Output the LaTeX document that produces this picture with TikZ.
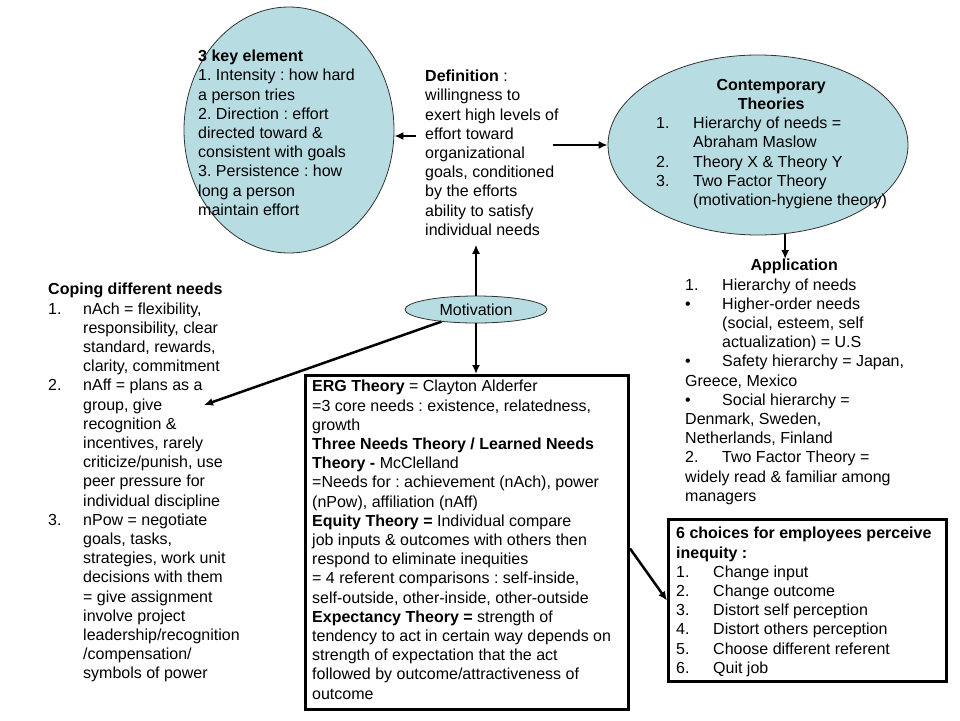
\documentclass[tikz,border=0pt]{standalone}
\usepackage{fontspec}
\setmainfont{Liberation Sans}
\usetikzlibrary{positioning, calc, shapes.geometric, arrows.meta}
\definecolor{bubble}{RGB}{183,221,227}
\newcommand{\lnum}[2][37pt]{\makebox[#1][l]{#2}}
\newcommand{\lind}[1][37pt]{\hspace*{#1}}
\frenchspacing

\begin{document}
\begin{tikzpicture}[x=1pt, y=-1pt,
	txt/.style={anchor=north west, inner sep=0pt, align=left, font=\fontsize{16}{19.2}\selectfont},
	blob/.style={draw=black!80, line width=0.8pt, fill=bubble, ellipse, inner sep=0pt},
	frame/.style={draw, line width=3pt, anchor=north west},
	arr/.style={-{Latex[length=9pt,width=8pt]}, line width=2.5pt}]
			\fill[white] (0,0) rectangle (960,720);
			\useasboundingbox (0,0) rectangle (960,720);

			% bubbles and boxes
			\node (key) [blob, minimum width=210, minimum height=246] at (289,130) {};
			\node (cont) [blob, minimum width=300, minimum height=180] at (758,145) {};
			\node (mot) [blob, minimum width=142, minimum height=27, font=\fontsize{16}{19.2}\selectfont] at (476,309.5) {Motivation};
			\node (erg) [frame, minimum width=323, minimum height=334] at (304,374) {};
			\node (inq) [frame, minimum width=278, minimum height=162] at (667,518) {};

			% texts
			\node (keytxt) [txt] at (198,50) {\textbf{3 key element}\\1. Intensity : how hard\\a person tries\\2. Direction : effort\\directed toward \&\\consistent with goals\\3. Persistence : how\\long a person\\maintain effort};
			\node (def) [txt] at (425,70) {\textbf{Definition} :\\willingness to\\exert high levels of\\effort toward\\organizational\\goals, conditioned\\by the efforts\\ability to satisfy\\individual needs};
			\node (conttxt) [txt] at (656,79) {\makebox[230pt][c]{\bfseries Contemporary}\\\makebox[230pt][c]{\bfseries Theories}\\\lnum{1.}Hierarchy of needs =\\\lind Abraham Maslow\\\lnum{2.}Theory X \& Theory Y\\\lnum{3.}Two Factor Theory\\\lind (motivation-hygiene theory)};
			\node (app) [txt] at (685,259) {\makebox[218pt][c]{\bfseries Application}\\\lnum{1.}Hierarchy of needs\\\lnum{\textbullet}Higher-order needs\\\lind (social, esteem, self\\\lind actualization) = U.S\\\lnum{\textbullet}Safety hierarchy = Japan,\\Greece, Mexico\\\lnum{\textbullet}Social hierarchy =\\Denmark, Sweden,\\Netherlands, Finland\\\lnum{2.}Two Factor Theory =\\widely read \& familiar among\\managers};
			\node (cope) [txt] at (48,283) {\textbf{Coping different needs}\\\lnum[35pt]{1.}nAch = flexibility,\\\lind[35pt]responsibility, clear\\\lind[35pt]standard, rewards,\\\lind[35pt]clarity, commitment\\\lnum[35pt]{2.}nAff = plans as a\\\lind[35pt]group, give\\\lind[35pt]recognition \&\\\lind[35pt]incentives, rarely\\\lind[35pt]criticize/punish, use\\\lind[35pt]peer pressure for\\\lind[35pt]individual discipline\\\lnum[35pt]{3.}nPow = negotiate\\\lind[35pt]goals, tasks,\\\lind[35pt]strategies, work unit\\\lind[35pt]decisions with them\\\lind[35pt]= give assignment\\\lind[35pt]involve project\\\lind[35pt]leadership/recognition\\\lind[35pt]/compensation/\\\lind[35pt]symbols of power};
			\node (ergtxt) [txt] at (312,380) {\textbf{ERG Theory} = Clayton Alderfer\\=3 core needs : existence, relatedness,\\growth\\\textbf{Three Needs Theory / Learned Needs}\\\textbf{Theory -} McClelland\\=Needs for : achievement (nAch), power\\(nPow), affiliation (nAff)\\\textbf{Equity Theory =} Individual compare\\job inputs \& outcomes with others then\\respond to eliminate inequities\\= 4 referent comparisons : self-inside,\\self-outside, other-inside, other-outside\\\textbf{Expectancy Theory =} strength of\\tendency to act in certain way depends on\\strength of expectation that the act\\followed by outcome/attractiveness of\\outcome};
			\node (inqtxt) [txt] at (676,527) {\textbf{6 choices for employees perceive}\\\textbf{inequity :}\\\lnum{1.}Change input\\\lnum{2.}Change outcome\\\lnum{3.}Distort self perception\\\lnum{4.}Distort others perception\\\lnum{5.}Choose different referent\\\lnum{6.}Quit job};

			% connectors
			\coordinate (copetip) at (204,405);
			\draw [arr] ($(def.west |- key.east)+(-9,6)$) -- ($(key.east)+(0,6)$);
			\draw [arr] ($(cont.west)+(-55,0)$) -- (cont.west);
			\draw [arr] (cont.-73) -- (cont.-73 |- app.north);
			\draw [arr] (mot.north) -- ([yshift=-9pt]mot.north |- def.south);
			\draw [arr] (mot.south) -- (mot.south |- erg.north);
			\draw [arr] (mot) -- (copetip);
			\draw [arr] ([yshift=-6pt]erg.east) -- (inq.west);
		\end{tikzpicture}
\end{document}
